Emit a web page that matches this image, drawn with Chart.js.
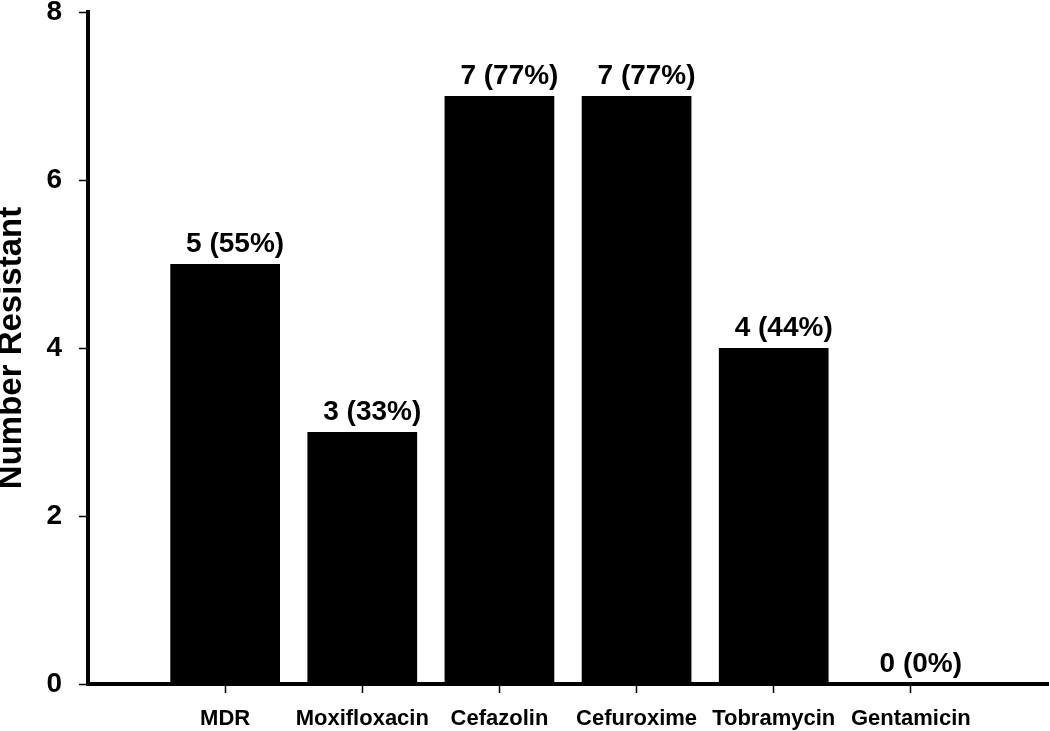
<!DOCTYPE html>
<html>
<head>
<meta charset="utf-8">
<script src="https://cdn.jsdelivr.net/npm/chart.js@4/dist/chart.umd.min.js"></script>
<style>
  html, body { margin: 0; padding: 0; background: #fff; }
  #wrap { width: 1050px; height: 731px; position: relative; }
</style>
</head>
<body>
<div id="wrap"><canvas id="c" width="1050" height="731"></canvas></div>
<script>
const categories = ['MDR', 'Moxifloxacin', 'Cefazolin', 'Cefuroxime', 'Tobramycin', 'Gentamicin'];
const resistantCounts = [5, 3, 7, 7, 4, 0];
const resistantPercents = [55, 33, 77, 77, 44, 0];
const yTicks = [0, 2, 4, 6, 8];
const yTitle = 'Number Resistant';

const FONT = '"Liberation Sans", Arial, Helvetica, sans-serif';

// one empty slot on each side so the bars sit one category in from the axis ends
const labels = [''].concat(categories, ['']);
const values = [null].concat(resistantCounts, [null]);
const pointLabels = [''].concat(resistantCounts.map((v, i) => v + ' (' + resistantPercents[i] + '%)'), ['']);

const valueLabelPlugin = {
  id: 'valueLabels',
  afterDatasetsDraw(chart) {
    const ctx = chart.ctx;
    const meta = chart.getDatasetMeta(0);
    ctx.save();
    ctx.font = 'bold 28px ' + FONT;
    ctx.fillStyle = '#000';
    ctx.textAlign = 'center';
    ctx.textBaseline = 'alphabetic';
    meta.data.forEach((bar, i) => {
      if (values[i] === null) return;
      ctx.fillText(pointLabels[i], bar.x + 10, bar.y - 12);
    });
    ctx.restore();
  }
};

new Chart(document.getElementById('c'), {
  type: 'bar',
  data: {
    labels: labels,
    datasets: [{
      data: values,
      backgroundColor: '#000',
      borderWidth: 0,
      categoryPercentage: 1.0,
      barPercentage: 0.8
    }]
  },
  options: {
    responsive: false,
    animation: false,
    devicePixelRatio: 1,
    layout: { padding: { top: 12, right: 2, left: 0, bottom: 0 } },
    plugins: {
      legend: { display: false },
      tooltip: { enabled: false }
    },
    scales: {
      x: {
        type: 'category',
        offset: false,
        grid: {
          offset: false,
          drawOnChartArea: false,
          drawTicks: true,
          tickLength: 9,
          tickWidth: 1.5,
          tickColor: (c) => (c.index === 0 || c.index === labels.length - 1) ? 'rgba(0,0,0,0)' : '#000'
        },
        border: { display: true, color: '#000', width: 4 },
        ticks: {
          color: '#000',
          padding: 13,
          maxRotation: 0,
          autoSkip: false,
          font: { family: FONT, size: 22, weight: 'bold', lineHeight: 1.2 }
        },
        afterFit(scale) { scale.height = 47; scale.paddingLeft = 0; scale.paddingRight = 0; }
      },
      y: {
        min: 0,
        max: 8,
        afterBuildTicks(scale) { scale.ticks = yTicks.map(v => ({ value: v })); },
        grid: {
          drawOnChartArea: false,
          drawTicks: true,
          tickLength: 9,
          tickWidth: 1.5,
          tickColor: '#000'
        },
        border: { display: true, color: '#000', width: 4 },
        ticks: {
          color: '#000',
          padding: 17,
          font: { family: FONT, size: 28, weight: 'bold', lineHeight: 0.8 }
        },
        title: {
          display: true,
          text: yTitle,
          color: '#000',
          padding: { top: -5, bottom: 0 },
          font: { family: FONT, size: 33, weight: 'bold', lineHeight: 1 }
        },
        afterFit(scale) { scale.width = 88; scale.paddingTop = 0; scale.paddingBottom = 0; }
      }
    }
  },
  plugins: [valueLabelPlugin]
});
</script>
</body>
</html>
